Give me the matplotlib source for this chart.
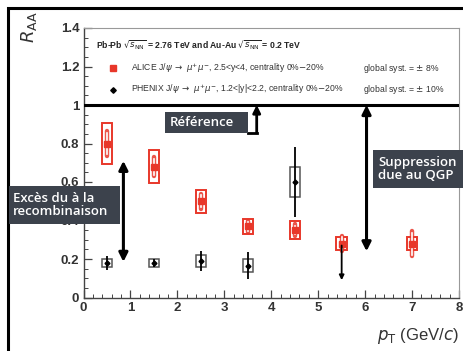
"""J/psi R_AA versus pT: ALICE Pb-Pb and PHENIX Au-Au, annotated."""

import matplotlib.pyplot as plt
from matplotlib.patches import Rectangle
from matplotlib.ticker import MultipleLocator

W, H = 463, 351

# ALICE J/psi, 2.5<y<4, 0-20%
alice_pt = [0.5, 1.5, 2.5, 3.5, 4.5, 5.5, 7.0]
alice_raa = [0.80, 0.68, 0.50, 0.37, 0.35, 0.28, 0.28]
alice_stat = [0.065, 0.05, 0.04, 0.03, 0.03, 0.04, 0.065]
alice_syst = [0.105, 0.085, 0.06, 0.04, 0.045, 0.035, 0.035]

# PHENIX J/psi, 1.2<|y|<2.2, 0-20%
phenix_pt = [0.5, 1.5, 2.5, 3.5, 4.5]
phenix_raa = [0.18, 0.18, 0.19, 0.165, 0.60]
phenix_stat = [0.035, 0.02, 0.05, 0.07, 0.18]
phenix_syst = [0.02, 0.02, 0.03, 0.035, 0.08]
phenix_ul_pt = [5.5]
phenix_ul_from = [0.27]
phenix_ul_to = [0.09]

x_ticks = [0, 1, 2, 3, 4, 5, 6, 7, 8]
y_ticks = [0, 0.2, 0.4, 0.6, 0.8, 1.0, 1.2, 1.4]
y_tick_labels = ["0", "0.2", "0.4", "0.6", "0.8", "1", "1.2", "1.4"]

RED = "#e8372a"
SLATE = "#3c424c"
BOX_W = 0.22


def px(x, y):
    """Pixel position (from top-left) to figure fraction."""
    return x / W, 1 - y / H


fig = plt.figure(figsize=(W / 100, H / 100), dpi=100)
fig.patch.set_facecolor("white")
plt.rcParams["font.family"] = ["Liberation Sans", "DejaVu Sans"]

l, b = px(83.5, 297.5)
r, t = px(459, 28)
ax = fig.add_axes([l, b, r - l, t - b])
ax.set_xlim(0, 8)
ax.set_ylim(0, 1.4)

# reference line at R_AA = 1
ax.axhline(1.0, color="black", lw=2.2, zorder=3)

# ALICE: syst boxes, stat bars, markers
for x, y, st, sy in zip(alice_pt, alice_raa, alice_stat, alice_syst):
    ax.add_patch(Rectangle((x - BOX_W / 2, y - sy), BOX_W, 2 * sy,
                           fill=False, ec=RED, lw=1.4, zorder=4))
    ax.plot([x, x], [y - st, y + st], color=RED, lw=3.2,
            solid_capstyle="round", alpha=0.85, zorder=4)
    ax.plot([x, x], [y - st + 0.008, y + st - 0.008], color="white", lw=1.2,
            zorder=4)
ax.plot(alice_pt, alice_raa, "s", color=RED, ms=5, zorder=5)

# PHENIX: syst boxes, stat bars, markers
for x, y, st, sy in zip(phenix_pt, phenix_raa, phenix_stat, phenix_syst):
    ax.add_patch(Rectangle((x - BOX_W / 2, y - sy), BOX_W, 2 * sy,
                           fill=False, ec="#555555", lw=1.1, zorder=4))
ax.errorbar(phenix_pt, phenix_raa, yerr=phenix_stat, fmt="D", color="black",
            ms=2.5, elinewidth=1.3, capsize=0, zorder=5)
for x, y0, y1 in zip(phenix_ul_pt, phenix_ul_from, phenix_ul_to):
    ax.annotate("", xy=(x, y1), xytext=(x, y0),
                arrowprops=dict(arrowstyle="-|>", color="black", lw=1.3,
                                mutation_scale=7, shrinkA=0, shrinkB=0),
                zorder=5)

# annotation arrows
arrow_kw = dict(arrowstyle="<|-|>", color="black", lw=2.2,
                mutation_scale=13, shrinkA=0, shrinkB=0)
ax.annotate("", xy=(0.85, 0.71), xytext=(0.85, 0.185), arrowprops=arrow_kw,
            zorder=6)
ax.annotate("", xy=(6.03, 1.0), xytext=(6.03, 0.24), arrowprops=arrow_kw,
            zorder=6)
ax.plot([3.5, 3.69], [0.855, 0.855], color="black", lw=2, zorder=6)
ax.annotate("", xy=(3.69, 1.0), xytext=(3.69, 0.855),
            arrowprops=dict(arrowstyle="-|>", color="black", lw=2,
                            mutation_scale=11, shrinkA=0, shrinkB=0),
            zorder=6)

# axes styling
ax.xaxis.set_major_locator(MultipleLocator(1))
ax.xaxis.set_minor_locator(MultipleLocator(0.2))
ax.yaxis.set_minor_locator(MultipleLocator(0.05))
ax.set_xticks(x_ticks)
ax.set_yticks(y_ticks)
ax.set_yticklabels(y_tick_labels)
ax.tick_params(which="both", direction="in", colors="#444444",
               labelcolor="#333333")
ax.tick_params(which="major", length=6, width=0.9, labelsize=9.5, pad=3)
ax.tick_params(which="minor", length=3, width=0.7)
for lab in ax.get_xticklabels() + ax.get_yticklabels():
    lab.set_fontweight("bold")
for side in ("top", "right"):
    ax.spines[side].set_color("#999999")
    ax.spines[side].set_linewidth(0.8)
for side in ("left", "bottom"):
    ax.spines[side].set_color("#444444")
    ax.spines[side].set_linewidth(1.0)

# legend block
leg_fs = 6.2
ax.text(0.27, 1.315, r"Pb-Pb $\sqrt{s_{\rm NN}}$ = 2.76 TeV and Au-Au "
        r"$\sqrt{s_{\rm NN}}$ = 0.2 TeV", fontsize=leg_fs, fontweight="bold",
        va="center", color="#222222")
ax.plot([0.62], [1.19], "s", color=RED, ms=5)
ax.plot([0.62], [1.08], "D", color="black", ms=2.8)
ax.text(1.02, 1.19, r"ALICE J/$\psi$ $\rightarrow$ $\mu^{+}\mu^{-}$, "
        r"2.5<y<4, centrality 0%$-$20%", fontsize=leg_fs, va="center",
        color="#333333")
ax.text(1.02, 1.08, r"PHENIX J/$\psi$ $\rightarrow$ $\mu^{+}\mu^{-}$, "
        r"1.2<|y|<2.2, centrality 0%$-$20%", fontsize=leg_fs, va="center",
        color="#333333")
ax.text(5.95, 1.19, r"global syst. = $\pm$ 8%", fontsize=leg_fs,
        va="center", color="#333333")
ax.text(5.95, 1.08, r"global syst. = $\pm$ 10%", fontsize=leg_fs,
        va="center", color="#333333")

# axis titles
fig.text(*px(29, 27), r"$R_{\rm AA}$", rotation=90, fontsize=13,
         ha="center", va="center", color="#333333")
fig.text(*px(459, 336), r"$p_{\rm T}$ (GeV/$c$)", fontsize=12,
         ha="right", va="center", color="#333333")

# outer frame
fig.add_artist(Rectangle(px(8, 380), 500 / W, 372 / H, fill=False,
                         ec="black", lw=2.2, transform=fig.transFigure))

# labelled boxes
boxes = [
    ((165, 112), (248, 133), "Référence", 170),
    ((373, 150), (470, 188), "Suppression\ndue au QGP", 378),
    ((9, 186), (120, 224), "Excès du à la\nrecombinaison", 13),
]
for (x0, y0), (x1, y1), label, tx in boxes:
    fx0, fy1 = px(x0, y1)
    fig.add_artist(Rectangle((fx0, fy1), (x1 - x0) / W, (y1 - y0) / H,
                             fc=SLATE, ec="none", transform=fig.transFigure,
                             zorder=10))
    fig.text(tx / W, 1 - (y0 + y1) / 2 / H, label, color="white",
             fontsize=9.5, fontweight="semibold", family="Open Sans",
             va="center", ha="left", linespacing=1.0, zorder=11)

fig.savefig("out.png", dpi=100)
